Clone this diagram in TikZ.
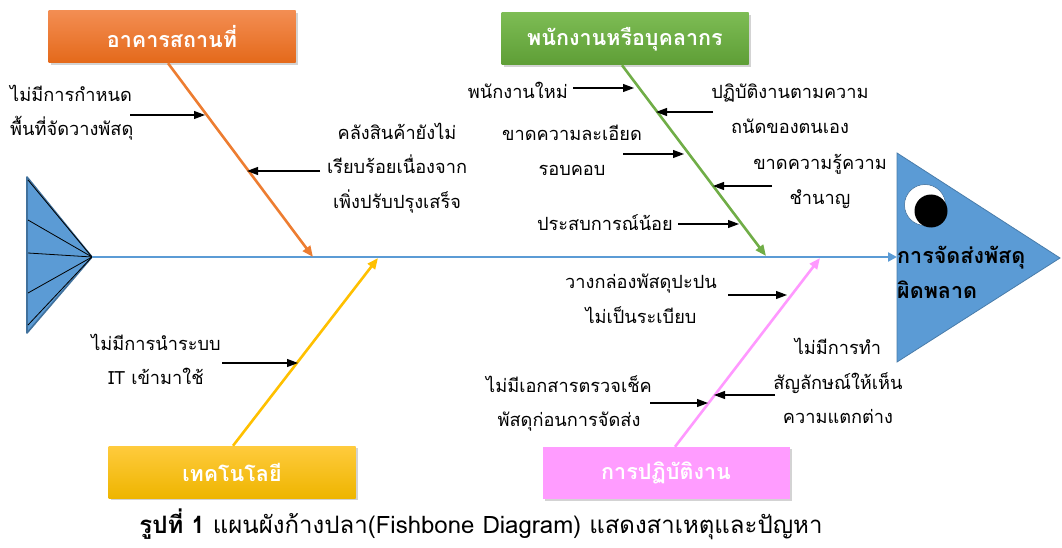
\documentclass[tikz,border=0pt]{standalone}
\usepackage{fontspec}
\newfontfamily\thai[Script=Thai]{Loma}
\usetikzlibrary{arrows.meta,shadows}
\definecolor{fishblue}{HTML}{5B9BD5}
\definecolor{fishdark}{HTML}{41719C}
\definecolor{boneorange}{HTML}{ED7D31}
\definecolor{bonegreen}{HTML}{70AD47}
\definecolor{boneyellow}{HTML}{FFC000}
\definecolor{bonepink}{HTML}{FF99FF}
\definecolor{orangetop}{HTML}{F38D52}
\definecolor{orangebot}{HTML}{E4691A}
\definecolor{greentop}{HTML}{7DBC54}
\definecolor{greenbot}{HTML}{5E9E36}
\definecolor{yellowtop}{HTML}{FFCB3D}
\definecolor{yellowbot}{HTML}{EEB500}
\definecolor{pinkbox}{HTML}{FF9CFF}
\begin{document}
\begin{tikzpicture}[x=1pt,y=-1pt,
  catbox/.style={minimum width=247pt,minimum height=52pt,inner sep=0pt,
    text=white,font=\thai\bfseries\fontsize{21.5}{24}\selectfont,
    drop shadow={opacity=0.35,shadow xshift=2pt,shadow yshift=-2pt}},
  bone/.style={line width=2.6pt,-{Triangle[length=11pt,width=9pt]}},
  sub/.style={line width=1.1pt,black,-{Triangle[length=11pt,width=8pt]}},
  lbl/.style={font=\thai\fontsize{18.2}{34.5}\selectfont,inner sep=0pt,align=center},
  eye/.style={circle,inner sep=0pt}]
\useasboundingbox (0,0) rectangle (1062,548);
% tail
\coordinate (tailtip) at (92,257);
\filldraw[fill=fishblue,draw=fishdark,line width=1.6pt,line join=round] (27,177) -- (tailtip) -- (27,333) -- cycle;
\foreach \yy in {180,220,253,293,325} \draw[black,line width=0.8pt] (tailtip) -- (28,\yy);
% head
\coordinate (headbase) at (897,257);
\filldraw[fill=fishblue,draw=fishblue!80!black,line width=0.8pt] (897,153) -- (1060,258) -- (897,362) -- cycle;
\node[eye,fill=white,draw=fishblue!70!black,line width=0.5pt,minimum size=41pt] (eyew) at (925,205) {};
\node[eye,fill=black,minimum size=33pt] (eyeb) at (931,211) {};
\node[anchor=west,inner sep=0pt,align=left,font=\thai\bfseries\fontsize{21.5}{35}\selectfont] (head) at (897,272) {การจัดส่งพัสดุ\\ผิดพลาด};
% spine
\draw[fishblue,line width=2.6pt,-{Triangle[length=9pt,width=9pt]}] (tailtip) -- (headbase);
% category boxes
\node[catbox,top color=orangetop,bottom color=orangebot] (c1) at (172,37) {อาคารสถานที่};
\node[catbox,top color=greentop,bottom color=greenbot] (c2) at (625,39) {พนักงานหรือบุคลากร};
\node[catbox,top color=yellowtop,bottom color=yellowbot] (c3) at (232,472) {เทคโนโลยี};
\node[catbox,fill=pinkbox] (c4) at (666,473) {การปฏิบัติงาน};
% bone ends on spine
\coordinate (s1) at (313,257);
\coordinate (s2) at (766,256);
\coordinate (s3) at (378,258);
\coordinate (s4) at (820,258);
\draw[bone,boneorange] ([xshift=-4pt]c1.south) -- (s1);
\draw[bone,bonegreen] ([xshift=-3pt]c2.south) -- (s2);
\draw[bone,boneyellow] ([xshift=1pt]c3.north) -- (s3);
\draw[bone,bonepink] ([xshift=9pt]c4.north) -- (s4);
% labels
\node[lbl,align=left,anchor=west] (l1) at (10,112.5) {ไม่มีการกำหนด\\พื้นที่จัดวางพัสดุ};
\node[lbl] (l2) at (397,168) {คลังสินค้ายังไม่\\เรียบร้อยเนื่องจาก\\เพิ่งปรับปรุงเสร็จ};
\node[lbl,anchor=east] (l3) at (568,90) {พนักงานใหม่};
\node[lbl] (l4) at (790,108.5) {ปฏิบัติงานตามความ\\ถนัดของตนเอง};
\node[lbl] (l5) at (572,150.5) {ขาดความละเอียด\\รอบคอบ};
\node[lbl] (l6) at (820,181.5) {ขาดความรู้ความ\\ชำนาญ};
\node[lbl,anchor=east] (l7) at (673,223) {ประสบการณ์น้อย};
\node[lbl] (l8) at (156,359.5) {ไม่มีการนำระบบ\\IT เข้ามาใช้};
\node[lbl] (l9) at (641,299) {วางกล่องพัสดุปะปน\\ไม่เป็นระเบียบ};
\node[lbl] (l10) at (569,403.5) {ไม่มีเอกสารตรวจเช็ค\\พัสดุก่อนการจัดส่ง};
\node[lbl] (l11) at (838,381) {ไม่มีการทำ\\สัญลักษณ์ให้เห็น\\ความแตกต่าง};
% sub arrows
\coordinate (a1s) at (130,115); \coordinate (a1e) at (205,115);
\coordinate (a2s) at (320,171); \coordinate (a2e) at (247,171);
\coordinate (a3s) at (573,88);  \coordinate (a3e) at (634,88);
\coordinate (a4s) at (713,112); \coordinate (a4e) at (656,112);
\coordinate (a5s) at (623,154); \coordinate (a5e) at (684,154);
\coordinate (a6s) at (772,186); \coordinate (a6e) at (713,186);
\coordinate (a7s) at (678,224); \coordinate (a7e) at (739,224);
\coordinate (a8s) at (222,363); \coordinate (a8e) at (298,363);
\coordinate (a9s) at (728,295); \coordinate (a9e) at (787,295);
\coordinate (a10s) at (650,403); \coordinate (a10e) at (708,403);
\coordinate (a11s) at (775,395); \coordinate (a11e) at (714,395);
\foreach \i in {1,...,11} \draw[sub] (a\i s) -- (a\i e);
% caption
\node[inner sep=0pt,font=\thai\fontsize{24}{28}\selectfont] (cap) at (481,524) {\textbf{รูปที่ 1} แผนผังก้างปลา(Fishbone Diagram) แสดงสาเหตุและปัญหา};
\end{tikzpicture}
\end{document}
